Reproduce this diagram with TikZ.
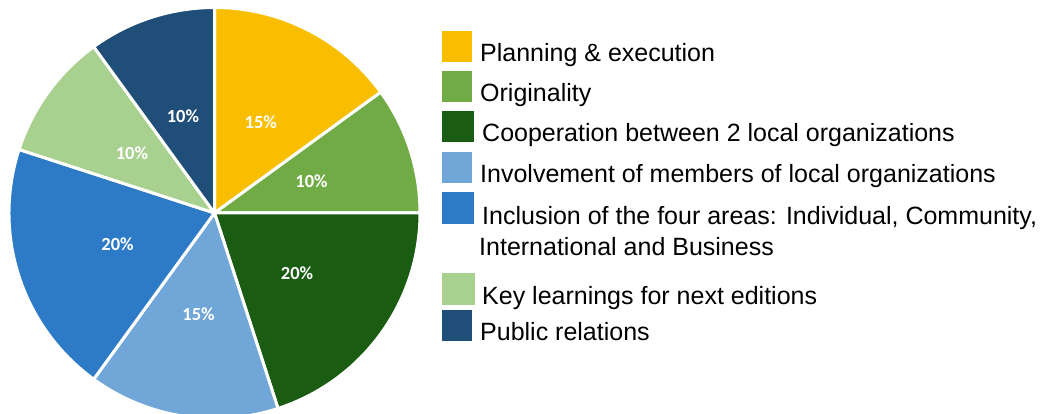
\documentclass[tikz,border=0pt]{standalone}
\usepackage{fontspec}
\setmainfont{Liberation Sans}
\newfontfamily\pctfont{Carlito}
\usepackage{tikz}
\usetikzlibrary{calc}

\definecolor{pieYellow}{HTML}{F9BE00}
\definecolor{pieGreen}{HTML}{70AB46}
\definecolor{pieDarkGreen}{HTML}{1A5C12}
\definecolor{pieLightBlue}{HTML}{70A6D8}
\definecolor{pieBlue}{HTML}{2D7BC6}
\definecolor{pieLightGreen}{HTML}{A8D08E}
\definecolor{pieDarkBlue}{HTML}{1F4E78}

\begin{document}
\begin{tikzpicture}[x=1pt,y=1pt,
  slice/.style={draw=white,line width=3pt,line join=round},
  pct/.style={text=white,inner sep=0pt,font=\pctfont\bfseries\fontsize{18.5}{20}\selectfont},
  legtext/.style={anchor=base west,inner sep=0pt,font=\fontsize{25}{30}\selectfont}]
  \useasboundingbox (0,0) rectangle (1043,414);
  \clip (0,0) rectangle (1043,414);

  % pie
  \coordinate (c) at (214.5,201);
  \fill[pieYellow,slice] (c) -- ++(36:205.5) arc[start angle=36,end angle=90,radius=205.5] -- cycle;
  \fill[pieGreen,slice] (c) -- ++(0:205.5) arc[start angle=0,end angle=36,radius=205.5] -- cycle;
  \fill[pieDarkGreen,slice] (c) -- ++(-72:205.5) arc[start angle=-72,end angle=0,radius=205.5] -- cycle;
  \fill[pieLightBlue,slice] (c) -- ++(-126:205.5) arc[start angle=-126,end angle=-72,radius=205.5] -- cycle;
  \fill[pieBlue,slice] (c) -- ++(162:205.5) arc[start angle=162,end angle=234,radius=205.5] -- cycle;
  \fill[pieLightGreen,slice] (c) -- ++(126:205.5) arc[start angle=126,end angle=162,radius=205.5] -- cycle;
  \fill[pieDarkBlue,slice] (c) -- ++(90:205.5) arc[start angle=90,end angle=126,radius=205.5] -- cycle;

  % percentages
  \node[pct] (pPlan) at ($(c)+(63:102)$) {15\%};
  \node[pct] (pOrig) at ($(c)+(18:102)$) {10\%};
  \node[pct] (pCoop) at ($(c)+(-36:102)$) {20\%};
  \node[pct] (pInv) at ($(c)+(-99:102)$) {15\%};
  \node[pct] (pIncl) at ($(c)+(-162:102)$) {20\%};
  \node[pct] (pKey) at ($(c)+(144:102)$) {10\%};
  \node[pct] (pPub) at ($(c)+(108:102)$) {10\%};

  % legend swatches
  \fill[pieYellow] (442,352) rectangle (472,383);
  \fill[pieGreen] (442,312) rectangle (472,343);
  \fill[pieDarkGreen] (442,272) rectangle (474,303);
  \fill[pieLightBlue] (442,231) rectangle (472,262);
  \fill[pieBlue] (442,190) rectangle (474,222);
  \fill[pieLightGreen] (442,109) rectangle (475,141);
  \fill[pieDarkBlue] (442,73) rectangle (472,104);

  % legend texts
  \node[legtext] (lPlan) at (480,352) {Planning \& execution};
  \node[legtext] (lOrig) at (480,312) {Originality};
  \node[legtext] (lCoop) at (482,272) {Cooperation between 2 local organizations};
  \node[legtext] (lInv) at (480,231) {Involvement of members of local organizations};
  \node[legtext] (lIncl) at (482,189) {Inclusion of the four areas: Individual, Community,};
  \node[legtext] (lIncl2) at (479,158) {International and Business};
  \node[legtext] (lKey) at (482,109) {Key learnings for next editions};
  \node[legtext] (lPub) at (480,73) {Public relations};
\end{tikzpicture}
\end{document}
